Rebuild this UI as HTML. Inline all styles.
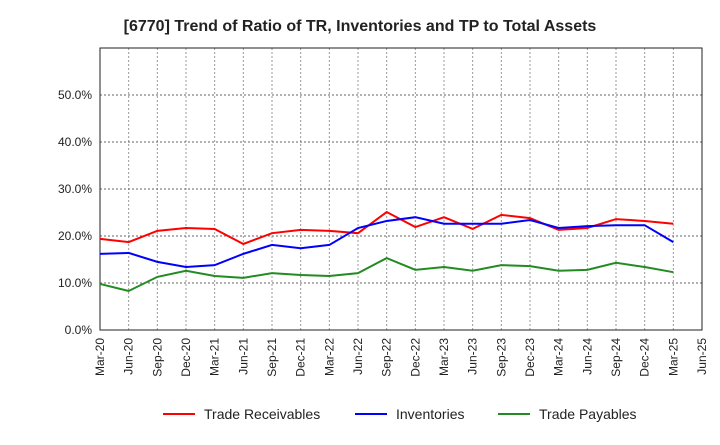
<!DOCTYPE html>
<html><head><meta charset="utf-8"><style>
body{margin:0;background:#fff;font-family:"Liberation Sans",sans-serif}
</style></head><body>
<svg id="c" width="720" height="440" xmlns="http://www.w3.org/2000/svg">
<text x="360" y="31" text-anchor="middle" font-size="16" font-weight="bold" fill="#222">[6770]  Trend of Ratio of TR, Inventories and TP to Total Assets</text>
<g id="grid"></g><g id="axes"></g><g id="series"></g><g id="legend"></g>
</svg>
<script>
const xLabels=["Mar-20","Jun-20","Sep-20","Dec-20","Mar-21","Jun-21","Sep-21","Dec-21","Mar-22","Jun-22","Sep-22","Dec-22","Mar-23","Jun-23","Sep-23","Dec-23","Mar-24","Jun-24","Sep-24","Dec-24","Mar-25","Jun-25"];
const yTicks=[0,10,20,30,40,50];
const tradeReceivables=[19.4,18.7,21.1,21.7,21.5,18.3,20.6,21.3,21.1,20.6,25.1,21.9,24.0,21.5,24.5,23.8,21.3,21.7,23.6,23.2,22.6];
const inventories=[16.2,16.4,14.5,13.4,13.8,16.2,18.1,17.4,18.1,21.7,23.2,24.0,22.6,22.6,22.6,23.4,21.7,22.1,22.3,22.3,18.7];
const tradePayables=[9.8,8.3,11.3,12.6,11.5,11.1,12.1,11.7,11.5,12.1,15.3,12.8,13.4,12.6,13.8,13.6,12.6,12.8,14.3,13.4,12.3];
const NS="http://www.w3.org/2000/svg";
const L=100,R=702,T=48,B=330,YMAX=60;
const x=i=>L+i*(R-L)/(xLabels.length-1);
const y=v=>B-v/YMAX*(B-T);
function mk(tag,attrs,parent){const e=document.createElementNS(NS,tag);for(const k in attrs)e.setAttribute(k,attrs[k]);document.getElementById(parent).appendChild(e);return e;}
// vertical grid
xLabels.forEach((l,i)=>{
 const g=mk('line',{x1:x(i),x2:x(i),y1:T,y2:B,stroke:'#999','stroke-dasharray':'2,2','stroke-width':1},'grid');
 
 
 const t=mk('text',{x:0,y:0,'font-size':12,fill:'#222','text-anchor':'end',transform:`translate(${x(i)+4},${B+8}) rotate(-90)`},'axes');
 t.textContent=l;
 
 
});
for(let v=10;v<=YMAX;v+=10){
 const g=mk('line',{x1:L,x2:R,y1:y(v),y2:y(v),stroke:'#666','stroke-dasharray':'2,2','stroke-width':1},'grid');
 
 
}
yTicks.forEach(v=>{
 const t=mk('text',{x:L-8,y:y(v)+4,'font-size':12,fill:'#222','text-anchor':'end'},'axes');
 t.textContent=v.toFixed(1)+'%';
 
 
});
const fr=mk('rect',{x:L,y:T,width:R-L,height:B-T,fill:'none',stroke:'#222','stroke-width':1},'axes');


const series=[["trade-receivables",tradeReceivables,"#ff0000","Trade Receivables"],["inventories",inventories,"#0000ff","Inventories"],["trade-payables",tradePayables,"#228b22","Trade Payables"]];
series.forEach(([n,d,c])=>{
 const p=mk('polyline',{points:d.map((v,i)=>x(i)+','+y(v)).join(' '),fill:'none',stroke:c,'stroke-width':2},'series');
 
 
});
const lx=[163,355,498];
series.forEach(([n,d,c,label],k)=>{
 const ln=mk('line',{x1:lx[k],x2:lx[k]+32,y1:414,y2:414,stroke:c,'stroke-width':2},'legend');
 
 
 const t=mk('text',{x:lx[k]+41,y:419,'font-size':14,fill:'#222'},'legend');
 t.textContent=label;
 
 
});
</script>
</body></html>
